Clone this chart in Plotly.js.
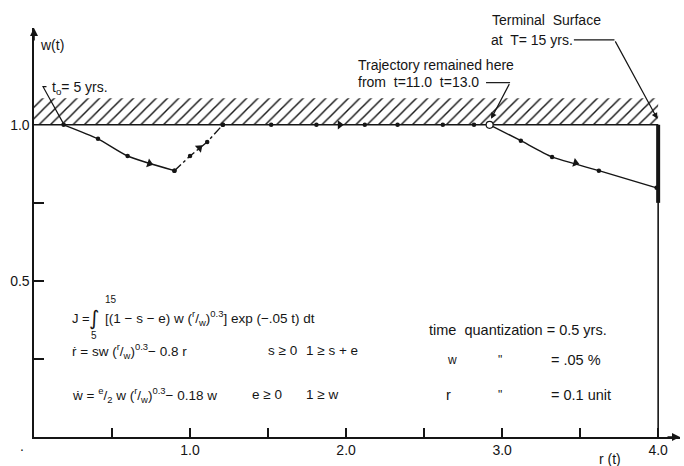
<!DOCTYPE html>
<html>
<head>
<meta charset="utf-8">
<script src="https://cdn.plot.ly/plotly-3.0.1.min.js"></script>
<style>html,body{margin:0;padding:0;background:#fff;}#chart{width:684px;height:466px;}</style>
</head>
<body>
<div id="chart"></div>
<script>
// ---- data ----
const bandR = [0, 4.0];            // constraint band w >= 1 (hatched region)
const bandW = [1.0, 1.085];
const boundR = [0, 4.0];           // boundary line w = 1.0
const boundW = [1.0, 1.0];

// trajectory, t = 5 ... 15 yrs
const seg1R = [0.19, 0.41, 0.60, 0.90];
const seg1W = [1.0, 0.955, 0.90, 0.853];
const seg2R = [0.90, 1.00, 1.11, 1.21];
const seg2W = [0.853, 0.90, 0.945, 1.0];
const seg3R = [1.21, 1.52, 1.81, 2.12, 2.33, 2.62, 2.82, 2.92];
const seg3W = [1.0, 1.0, 1.0, 1.0, 1.0, 1.0, 1.0, 1.0];
const seg4R = [2.92, 3.12, 3.32, 3.62, 3.99];
const seg4W = [1.0, 0.949, 0.897, 0.853, 0.798];

const holdR = [2.92];               // trajectory remained here t=11..13
const holdW = [1.0];

const arrowR = [0.74, 1.06, 1.96, 3.47];
const arrowW = [0.876, 0.926, 1.0, 0.878];
const arrowAngle = [18, -41, 0, 16];

const termR = [4.0, 4.0];           // terminal surface T = 15 yrs
const termW = [0.75, 1.0];
const frameR = [4.0, 4.0];
const frameW = [0, 1.0];

const rTickVals = [0.5, 1.0, 1.5, 2.0, 2.5, 3.0, 3.5, 4.0];
const rTickText = ['', '1.0', '', '2.0', '', '3.0', '', '4.0'];
const wTickVals = [0.25, 0.5, 0.75, 1.0];
const wTickText = ['', '0.5', '', '1.0'];

// ---- drawing ----
const INK = '#151515';
const FONT = 'Liberation Sans, Arial, sans-serif';
const W_MAX = 1.31, R_MAX = 4.14;

const traces = [
  { x: [bandR[0], bandR[1], bandR[1], bandR[0], bandR[0]],
    y: [bandW[0], bandW[0], bandW[1], bandW[1], bandW[0]],
    mode: 'lines', fill: 'toself', line: {width: 0, color: 'rgba(0,0,0,0)'},
    fillcolor: 'rgba(255,255,255,0)',
    fillpattern: {shape: '/', size: 8, solidity: 0.18, fgcolor: INK, bgcolor: 'white'},
    hoverinfo: 'skip' },
  { x: boundR, y: boundW, mode: 'lines', line: {color: INK, width: 1.6} },
  { x: frameR, y: frameW, mode: 'lines', line: {color: INK, width: 1.6} },
  { x: termR, y: termW, mode: 'lines', line: {color: INK, width: 4} },
  { x: seg1R, y: seg1W, mode: 'lines+markers', line: {color: INK, width: 1.4, shape: 'spline', smoothing: 0.6},
    marker: {color: INK, size: 4.5} },
  { x: seg2R, y: seg2W, mode: 'lines+markers', line: {color: INK, width: 1.4, dash: 'dashdot'},
    marker: {color: INK, size: 4.5} },
  { x: seg3R, y: seg3W, mode: 'markers', marker: {color: INK, size: 4.5} },
  { x: seg4R, y: seg4W, mode: 'lines+markers', line: {color: INK, width: 1.4, shape: 'spline', smoothing: 0.6},
    marker: {color: INK, size: 4.5} },
  { x: arrowR, y: arrowW, mode: 'markers',
    marker: {symbol: 'triangle-right', size: 8, color: INK, angle: arrowAngle} },
  { x: holdR, y: holdW, mode: 'markers',
    marker: {symbol: 'circle', size: 7, color: 'white', line: {color: INK, width: 1.2}} }
];

function txt(x, y, text, opts) {
  return Object.assign({x: x, y: y, xref: 'x', yref: 'y', text: text, showarrow: false,
    xanchor: 'left', yanchor: 'middle', font: {family: FONT, size: 13, color: INK}}, opts || {});
}
function ptxt(r, w, text, opts) {   // text placed outside the axis ranges (paper coordinates)
  return Object.assign(txt(r / R_MAX, w / W_MAX, text, opts), {xref: 'paper', yref: 'paper'});
}
const F14 = {family: FONT, size: 14, color: INK};
const F145 = {family: FONT, size: 14.5, color: INK};
const F135 = {family: FONT, size: 13.5, color: INK};

const annotations = [
  // axis arrows
  {x: R_MAX, y: 0, xref: 'x', yref: 'y', ax: -14, ay: 0, showarrow: true, arrowhead: 2, arrowsize: 1, arrowwidth: 1.6, arrowcolor: INK, text: ''},
  {x: 0, y: W_MAX, xref: 'x', yref: 'y', ax: 0, ay: 14, showarrow: true, arrowhead: 2, arrowsize: 1, arrowwidth: 1.6, arrowcolor: INK, text: ''},
  // axis titles
  txt(0.026, 1.256, 'w(t)', {font: F14}),
  ptxt(3.69, -0.071, 'r (t)', {xanchor: 'center', font: F14}),
  ptxt(-0.075, -0.03, '.', {xanchor: 'center', font: F14}),
  // labels
  txt(0.105, 1.119, 't<sub>o</sub>= 5 yrs.', {font: F14}),
  txt(2.064, 1.192, 'Trajectory remained here', {font: F14}),
  txt(2.064, 1.138, 'from  t=11.0  t=13.0', {font: F14}),
  ptxt(2.923, 1.337, 'Terminal  Surface', {font: F14}),
  txt(2.917, 1.272, 'at  T= 15 yrs.', {font: F14}),
  // leader arrows
  {x: 2.929, y: 1.019, xref: 'x', yref: 'y', ax: 3.051, ay: 1.135, axref: 'x', ayref: 'y', showarrow: true,
   arrowhead: 2, arrowsize: 1, arrowwidth: 1.2, arrowcolor: INK, text: ''},
  {x: 3.995, y: 1.019, xref: 'x', yref: 'y', ax: 3.72, ay: 1.272, axref: 'x', ayref: 'y', showarrow: true,
   arrowhead: 2, arrowsize: 1, arrowwidth: 1.2, arrowcolor: INK, text: ''},
  // equations
  txt(0.231, 0.381, 'J ='),
  txt(0.385, 0.381, '\u222B', {xanchor: 'center', font: {family: 'DejaVu Sans, sans-serif', size: 20, color: INK}}),
  txt(0.44, 0.441, '15', {font: {family: FONT, size: 10, color: INK}}),
  txt(0.385, 0.326, '5', {xanchor: 'center', font: {family: FONT, size: 10, color: INK}}),
  txt(0.445, 0.381, '[(1 \u2212 s \u2212 e) w (<sup>r</sup>/<sub>w</sub>)<sup>0.3</sup>] exp (\u2212.05 t) dt', {font: F135}),
  txt(0.231, 0.276, 'r\u0307 = sw (<sup>r</sup>/<sub>w</sub>)<sup>0.3</sup>\u2212 0.8 r', {font: F135}),
  txt(1.487, 0.276, 's \u2265 0', {font: F135}),
  txt(1.731, 0.276, '1 \u2265 s + e', {font: F135}),
  txt(0.231, 0.135, '\u1E87 = <sup>e</sup>/<sub>2</sub> w (<sup>r</sup>/<sub>w</sub>)<sup>0.3</sup>\u2212 0.18 w', {font: F135}),
  txt(1.385, 0.135, 'e \u2265 0', {font: F135}),
  txt(1.731, 0.135, '1 \u2265 w', {font: F135}),
  txt(2.519, 0.343, 'time  quantization = 0.5 yrs.', {font: F145}),
  txt(2.679, 0.247, 'w', {xanchor: 'center', font: {family: FONT, size: 12, color: INK}}),
  txt(2.987, 0.247, '"', {xanchor: 'center', font: {family: FONT, size: 12, color: INK}}),
  txt(3.301, 0.247, '= .05 %', {font: F145}),
  txt(2.654, 0.135, 'r', {xanchor: 'center', font: F145}),
  txt(2.987, 0.135, '"', {xanchor: 'center', font: {family: FONT, size: 12, color: INK}}),
  txt(3.301, 0.135, '= 0.1 unit', {font: F145})
];

const shapes = [
  {type: 'path', xref: 'x', yref: 'y', path: 'M 0.08,1.122 L 0.058,1.122 L 0.186,1.006', line: {color: INK, width: 1.2}},
  {type: 'path', xref: 'x', yref: 'y', path: 'M 2.897,1.135 L 3.051,1.135', line: {color: INK, width: 1.2}},
  {type: 'path', xref: 'x', yref: 'y', path: 'M 3.46,1.272 L 3.72,1.272', line: {color: INK, width: 1.2}}
];

const layout = {
  width: 684, height: 466,
  margin: {l: 34, r: 4, t: 28, b: 29, pad: 0},
  paper_bgcolor: 'white', plot_bgcolor: 'white',
  showlegend: false,
  font: {family: FONT, size: 13, color: INK},
  xaxis: {range: [0, R_MAX], showline: true, linecolor: INK, linewidth: 1.6, ticks: 'inside', ticklen: 9,
          tickwidth: 1.4, tickcolor: INK, tickvals: rTickVals, ticktext: rTickText, showgrid: false,
          zeroline: false, tickfont: {family: FONT, size: 14, color: INK}, fixedrange: true},
  yaxis: {range: [0, W_MAX], showline: true, linecolor: INK, linewidth: 1.6, ticks: 'inside', ticklen: 10,
          tickwidth: 1.4, tickcolor: INK, tickvals: wTickVals, ticktext: wTickText, showgrid: false,
          zeroline: false, tickfont: {family: FONT, size: 14, color: INK}, fixedrange: true},
  annotations: annotations,
  shapes: shapes
};

Plotly.newPlot('chart', traces, layout, {staticPlot: true, displayModeBar: false});
</script>
</body>
</html>
